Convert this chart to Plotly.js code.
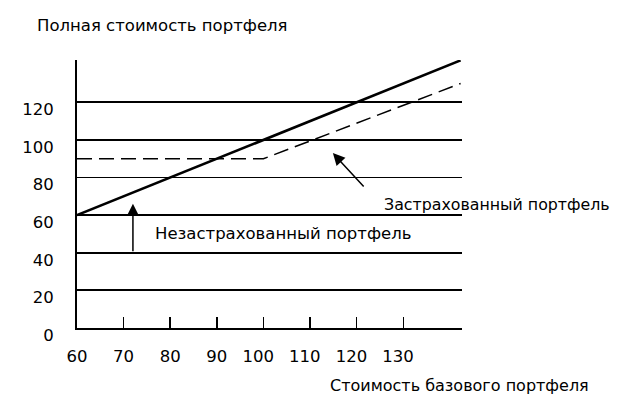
<!DOCTYPE html>
<html>
<head>
<meta charset="utf-8">
<script src="https://cdn.plot.ly/plotly-3.0.1.min.js"></script>
<style>html,body{margin:0;padding:0;background:#fff;}</style>
</head>
<body>
<div id="chart" style="width:618px;height:397px;"></div>
<script>
// Data
const baseValue = [60, 142.3];
const unhedgedValue = [60, 142.3];
const hedgedX = [60, 100, 142.3];
const hedgedY = [90, 90, 130];
const xTickVals = [60, 70, 80, 90, 100, 110, 120, 130];
const xTickText = ['60', '70', '80', '90', '100\u00A0\u00A0', '110\u00A0\u00A0', '120\u00A0\u00A0', '130\u00A0\u00A0'];
const yTickVals = [0, 20, 40, 60, 80, 100, 120];
const yTickText = ['0', '20', '40', '60', '80', '100', '120'];
const yTitle = 'Полная стоимость портфеля';
const xTitle = 'Стоимость базового портфеля';
const hedgedLabel = 'Застрахованный портфель';
const unhedgedLabel = 'Незастрахованный портфель';

const FONT = 'DejaVu Sans, Arial, sans-serif';
const FS = 16.5;

const traces = [
  {x: baseValue, y: unhedgedValue, mode: 'lines', line: {color: '#000', width: 2.6}, hoverinfo: 'skip'},
  {x: hedgedX, y: hedgedY, mode: 'lines', line: {color: '#000', width: 1.5, dash: '15px,7px'}, hoverinfo: 'skip'}
];

const layout = {
  width: 618, height: 397,
  margin: {l: 77, r: 156, t: 60, b: 69},
  paper_bgcolor: '#fff', plot_bgcolor: '#fff',
  showlegend: false,
  font: {family: FONT, size: FS, color: '#000'},
  xaxis: {
    range: [60, 142.6], showgrid: false, zeroline: false,
    showline: true, linecolor: '#000', linewidth: 2,
    tickmode: 'array', tickvals: xTickVals, ticktext: xTickText, tickangle: 0,
    ticks: 'inside', ticklen: 11, tickwidth: 1.5, tickcolor: '#000',
    ticklabelstandoff: 12,
    tickfont: {family: FONT, size: FS, color: '#000'}
  },
  yaxis: {
    range: [0, 142.5], showgrid: true, gridcolor: '#000', gridwidth: 1.8,
    zeroline: false, showline: true, linecolor: '#000', linewidth: 2,
    tickmode: 'array', tickvals: yTickVals, ticktext: yTickText,
    ticks: '', ticklabelstandoff: 18, ticklabelshift: 7,
    tickfont: {family: FONT, size: FS, color: '#000'}
  },
  annotations: [
    {xref: 'paper', yref: 'paper', x: -0.109, y: 1.127, xanchor: 'left', yanchor: 'middle',
     text: yTitle, showarrow: false, font: {family: FONT, size: FS, color: '#000'}},
    {xref: 'paper', yref: 'paper', x: 0.652, y: -0.213, xanchor: 'left', yanchor: 'middle',
     text: xTitle, showarrow: false, font: {family: FONT, size: 16, color: '#000'}},
    {xref: 'x', yref: 'y', x: 125.5, y: 65.9, xanchor: 'left', yanchor: 'middle',
     text: hedgedLabel, showarrow: false, font: {family: FONT, size: 15.8, color: '#000'}},
    {xref: 'x', yref: 'y', x: 76.3, y: 50, xanchor: 'left', yanchor: 'middle',
     text: unhedgedLabel, showarrow: false, font: {family: FONT, size: FS, color: '#000'}},
    {xref: 'x', yref: 'y', x: 72.0, y: 66, axref: 'x', ayref: 'y', ax: 72.0, ay: 40,
     text: '', showarrow: true, arrowhead: 2, arrowsize: 1.6, arrowwidth: 1.5, arrowcolor: '#000', standoff: 0},
    {xref: 'x', yref: 'y', x: 114.9, y: 93.0, axref: 'x', ayref: 'y', ax: 121.8, ay: 74.4,
     text: '', showarrow: true, arrowhead: 2, arrowsize: 1.6, arrowwidth: 1.5, arrowcolor: '#000', standoff: 0}
  ]
};

Plotly.newPlot('chart', traces, layout, {staticPlot: true, displayModeBar: false});
</script>
</body>
</html>
